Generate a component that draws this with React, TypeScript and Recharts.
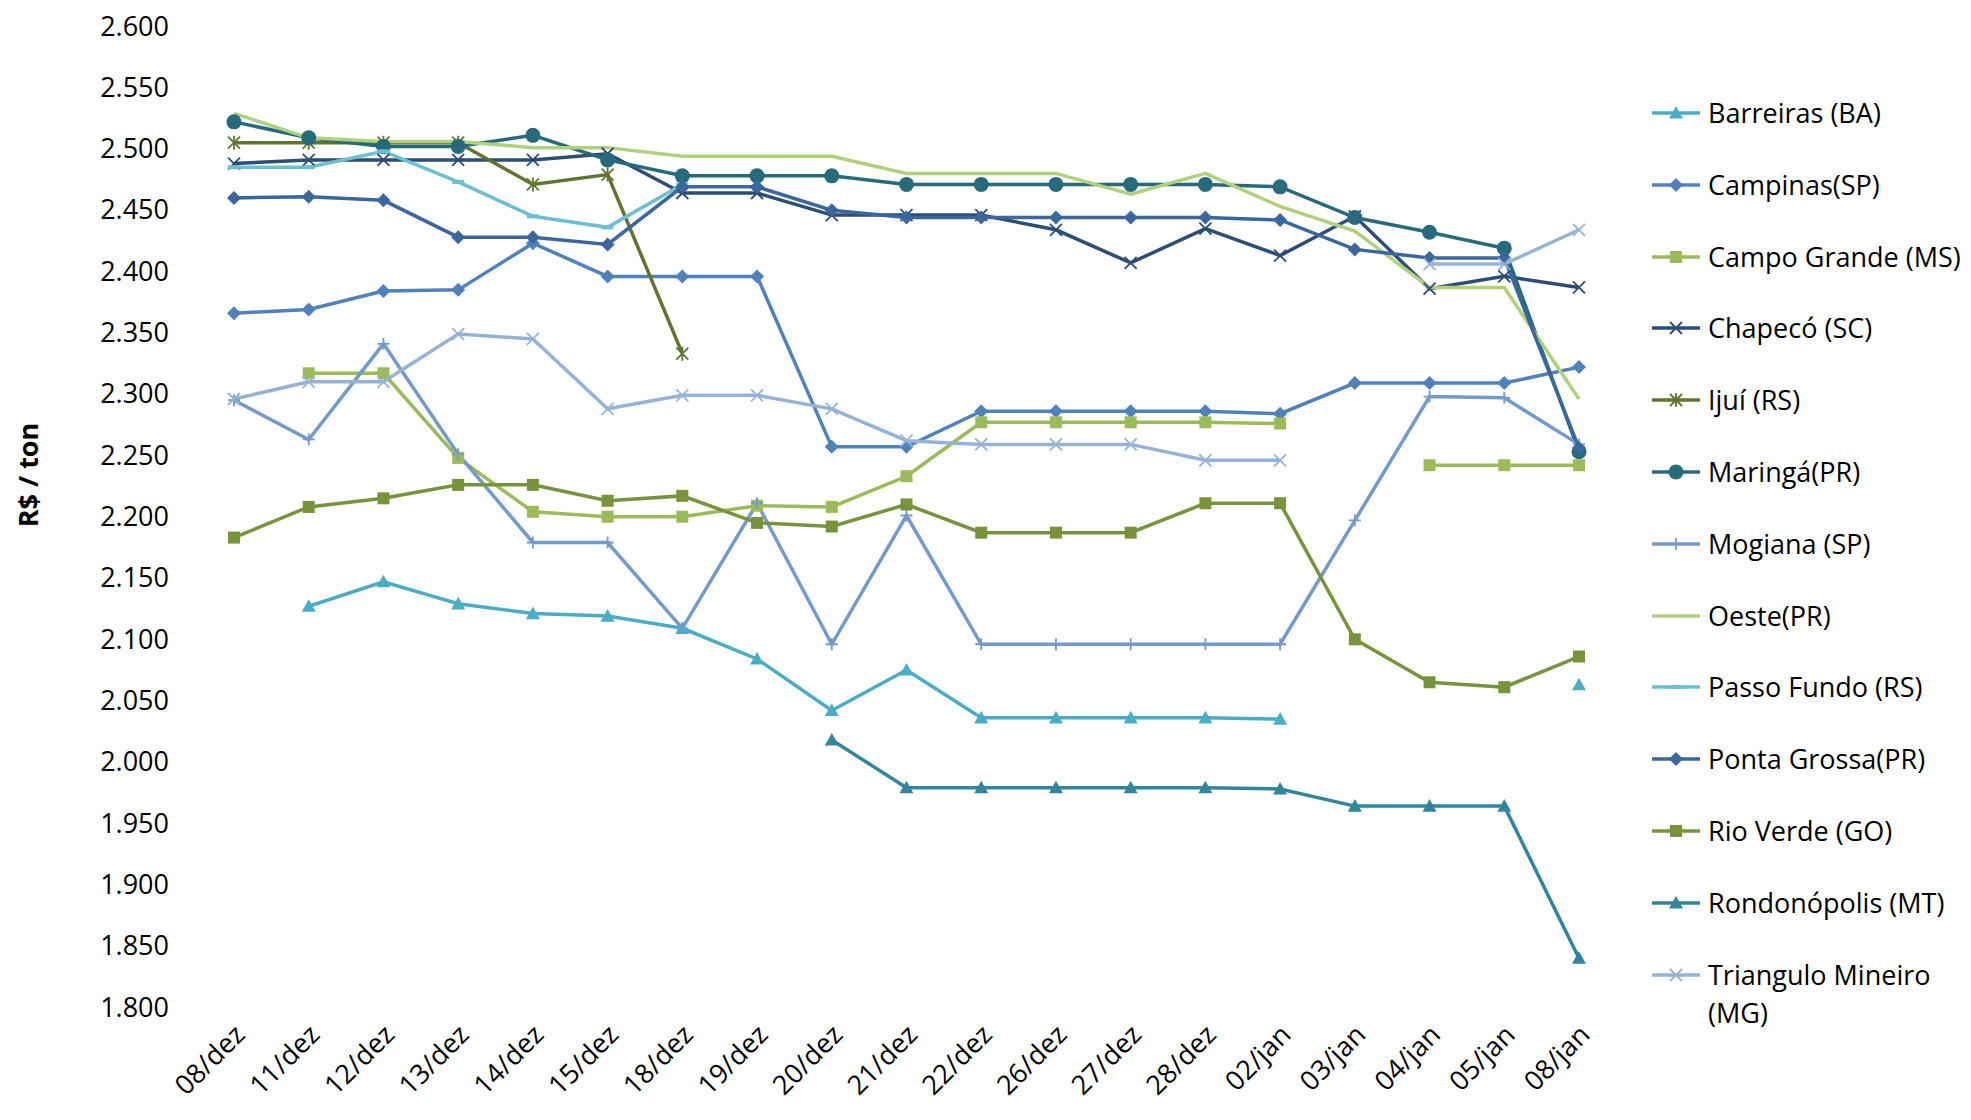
import React from "react";
import { LineChart, Line, XAxis, YAxis } from "recharts";

const categories = ["08/dez","11/dez","12/dez","13/dez","14/dez","15/dez","18/dez","19/dez","20/dez","21/dez","22/dez","26/dez","27/dez","28/dez","02/jan","03/jan","04/jan","05/jan","08/jan"];
const yTicks = [1800,1850,1900,1950,2000,2050,2100,2150,2200,2250,2300,2350,2400,2450,2500,2550,2600];

const N = null;
const barreiras = [N,2126,2146,2128,2120,2118,2108,2083,2041,2074,2035,2035,2035,2035,2034,N,N,N,2062];
const campinas = [2365,2368,2383,2384,2422,2395,2395,2395,2256,2256,2285,2285,2285,2285,2283,2308,2308,2308,2321];
const campoGrande = [N,2316,2316,2247,2203,2199,2199,2208,2207,2232,2276,2276,2276,2276,2275,N,2241,2241,2241];
const chapeco = [2487,2490,2490,2490,2490,2495,2463,2463,2445,2445,2445,2433,2406,2434,2412,2444,2385,2395,2386];
const ijui = [2504,2504,2504,2504,2470,2478,2332,N,N,N,N,N,N,N,N,N,N,N,N];
const maringa = [2521,2508,2501,2501,2510,2490,2477,2477,2477,2470,2470,2470,2470,2470,2468,2443,2431,2418,2252];
const mogiana = [2294,2262,2340,2250,2178,2178,2108,2210,2095,2200,2095,2095,2095,2095,2095,2196,2297,2296,2258];
const oeste = [2528,2508,2505,2505,2500,2500,2493,2493,2493,2479,2479,2479,2462,2479,2452,2432,2386,2386,2295];
const passoFundo = [2484,2484,2497,2472,2444,2435,2470,N,N,N,N,N,N,N,N,N,N,N,N];
const pontaGrossa = [2459,2460,2457,2427,2427,2421,2468,2468,2449,2443,2443,2443,2443,2443,2441,2417,2410,2410,2255];
const rioVerde = [2182,2207,2214,2225,2225,2212,2216,2194,2191,2209,2186,2186,2186,2210,2210,2099,2064,2060,2085];
const rondonopolis = [N,N,N,N,N,N,N,N,2017,1978,1978,1978,1978,1978,1977,1963,1963,1963,1839];
const triangulo = [2295,2309,2309,2348,2344,2287,2298,2298,2287,2261,2258,2258,2258,2245,2245,N,2405,2405,2433];

const series = [
  { key: "b", name: "Barreiras (BA)", values: barreiras, color: "#4BACC6", shape: "tri" },
  { key: "c", name: "Campinas(SP)", values: campinas, color: "#4F81BD", shape: "diamond" },
  { key: "cg", name: "Campo Grande (MS)", values: campoGrande, color: "#9BBB59", shape: "square" },
  { key: "ch", name: "Chapecó (SC)", values: chapeco, color: "#2C4D75", shape: "x" },
  { key: "ij", name: "Ijuí (RS)", values: ijui, color: "#5F7530", shape: "star" },
  { key: "m", name: "Maringá(PR)", values: maringa, color: "#276A7C", shape: "circle" },
  { key: "mo", name: "Mogiana (SP)", values: mogiana, color: "#729ACA", shape: "plus" },
  { key: "o", name: "Oeste(PR)", values: oeste, color: "#AFD17C", shape: "none" },
  { key: "pf", name: "Passo Fundo (RS)", values: passoFundo, color: "#6DBFD3", shape: "dash" },
  { key: "pg", name: "Ponta Grossa(PR)", values: pontaGrossa, color: "#3A679E", shape: "diamond" },
  { key: "rv", name: "Rio Verde (GO)", values: rioVerde, color: "#77933C", shape: "square" },
  { key: "r", name: "Rondonópolis (MT)", values: rondonopolis, color: "#31859C", shape: "tri" },
  { key: "t", name: "Triangulo Mineiro\n(MG)", values: triangulo, color: "#95B3D7", shape: "x" },
];

const data = categories.map((c, i) => {
  const row: any = { cat: c };
  series.forEach((s) => (row[s.key] = s.values[i]));
  return row;
});

function Marker({ cx, cy, shape, color }: any) {
  if (cx == null || cy == null) return null;
  const r = 7;
  switch (shape) {
    case "tri":
      return <polygon points={`${cx},${cy - r} ${cx + r},${cy + r * 0.8} ${cx - r},${cy + r * 0.8}`} fill={color} />;
    case "diamond":
      return <polygon points={`${cx},${cy - r} ${cx + r},${cy} ${cx},${cy + r} ${cx - r},${cy}`} fill={color} />;
    case "square":
      return <rect x={cx - 6} y={cy - 6} width={12} height={12} fill={color} />;
    case "circle":
      return <circle cx={cx} cy={cy} r={7.5} fill={color} />;
    case "x":
      return <path d={`M${cx - 6},${cy - 6}L${cx + 6},${cy + 6}M${cx - 6},${cy + 6}L${cx + 6},${cy - 6}`} stroke={color} strokeWidth={1.8} />;
    case "plus":
      return <path d={`M${cx - 6},${cy}L${cx + 6},${cy}M${cx},${cy - 6}L${cx},${cy + 6}`} stroke={color} strokeWidth={1.8} />;
    case "star":
      return <path d={`M${cx - 6},${cy - 6}L${cx + 6},${cy + 6}M${cx - 6},${cy + 6}L${cx + 6},${cy - 6}M${cx},${cy - 7}L${cx},${cy + 7}`} stroke={color} strokeWidth={1.8} />;
    case "dash":
      return <path d={`M${cx - 6},${cy}L${cx + 6},${cy}`} stroke={color} strokeWidth={4} />;
    default:
      return null;
  }
}

const XTick = ({ x, y, payload }: any) => (
  <text x={x - 4} y={y + 6} textAnchor="end" transform={`rotate(-45 ${x - 4} ${y + 6})`} fontSize={27} fill="#000" dominantBaseline="hanging">
    {payload.value}
  </text>
);

const YTick = ({ x, y, payload }: any) => (
  <text x={x - 20} y={y} textAnchor="end" dominantBaseline="central" fontSize={27} fill="#000">
    {fmt(payload.value)}
  </text>
);

const fmt = (v: number) => (v / 1000).toFixed(3);

export default function App() {
  return (
    <div style={{ position: "relative", width: 1963, height: 1112, fontFamily: "'Open Sans', 'Liberation Sans', sans-serif" }}>
      <LineChart width={1963} height={1112} data={data} margin={{ top: 17, right: 355, bottom: 10, left: 60 }}>
        <XAxis dataKey="cat" interval={0} tick={<XTick />} tickLine={false} axisLine={false} padding={{ left: 37, right: 37 }} height={104} />
        <YAxis domain={[1800, 2600]} ticks={yTicks} tick={<YTick />} tickLine={false} axisLine={false} width={129} interval={0} />
        {series.map((s) => (
          <Line key={s.key} dataKey={s.key} name={s.name} stroke={s.color} strokeWidth={3.5} isAnimationActive={false}
            dot={(p: any) => <Marker key={`${s.key}-${p.index}`} cx={p.cx} cy={p.cy} shape={s.shape} color={s.color} />}
            activeDot={false} connectNulls={false} />
        ))}
        <text x={30} y={467} transform="rotate(-90 30 467)" textAnchor="middle" fontSize={27} fontWeight="bold" fill="#000">R$ / ton</text>
      </LineChart>
      {series.map((s, i) => (
        <div key={s.key} style={{ position: "absolute", left: 1640, top: 86 + i * 71.8, display: "flex", alignItems: "flex-start", fontSize: 27 }}>
          <svg width={56} height={38} style={{ flexShrink: 0 }}>
            <line x1={4} y1={19} x2={52} y2={19} stroke={s.color} strokeWidth={3.5} />
            <Marker cx={28} cy={19} shape={s.shape} color={s.color} />
          </svg>
          <span style={{ marginLeft: 4, lineHeight: "38px", whiteSpace: "pre" }}>{s.name}</span>
        </div>
      ))}
    </div>
  );
}
